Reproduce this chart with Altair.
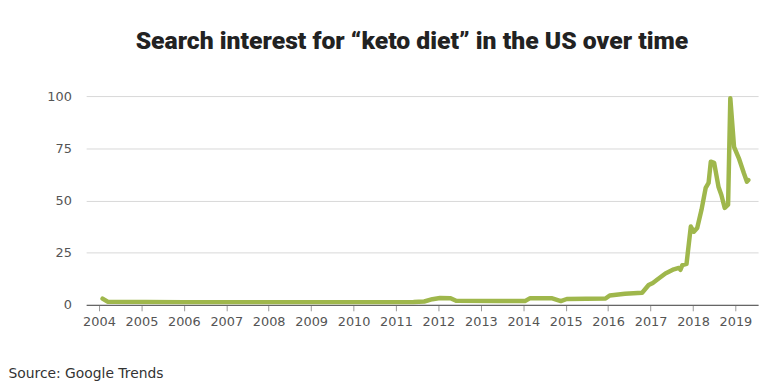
import altair as alt
import pandas as pd

# Google Trends search interest for "keto diet" (US)
dates = [
    "2004-02-01", "2004-03-15", "2006-01-01", "2008-01-01", "2010-01-01",
    "2011-06-01", "2011-09-01", "2011-11-10", "2012-01-15", "2012-04-15",
    "2012-06-01", "2013-06-01", "2014-01-15", "2014-03-01", "2014-09-01",
    "2014-11-20", "2015-01-10", "2015-12-10", "2016-01-15", "2016-05-25",
    "2016-10-20", "2016-12-15", "2017-01-20", "2017-02-25", "2017-05-08",
    "2017-07-20", "2017-09-01", "2017-09-15", "2017-10-01", "2017-11-06",
    "2017-12-13", "2018-01-08", "2018-02-06", "2018-03-15", "2018-04-20",
    "2018-05-15", "2018-06-03", "2018-07-02", "2018-08-08", "2018-09-02",
    "2018-10-01", "2018-10-30", "2018-11-18", "2018-12-20", "2019-01-30",
    "2019-03-15", "2019-04-10", "2019-04-22",
]
values = [
    3, 1.5, 1.3, 1.3, 1.3,
    1.4, 1.6, 2.7, 3.3, 3.2,
    2.0, 1.8, 1.8, 3.2, 3.2,
    1.8, 2.8, 3.0, 4.5, 5.3,
    5.8, 9.5, 10.5, 12, 15,
    17, 17.7, 16.8, 19, 19.6,
    37.5, 35, 36.8, 45.5, 56,
    58.4, 68.6, 68, 56.6, 52.6,
    46.4, 48, 99, 75.7, 70.3,
    63, 59, 59.8,
]
years = list(range(2004, 2020))
y_ticks = [0, 25, 50, 75, 100]

df = pd.DataFrame({"date": dates, "value": values})

FONT = "DejaVu Sans"

x_axis = alt.Axis(
    values=[alt.DateTime(year=y, month=1, date=1, utc=True) for y in years],
    format="%Y",
    grid=False,
    domainColor="#666666",
    domainWidth=1.2,
    tickColor="#999999",
    tickSize=6,
    labelPadding=5,
    labelFont=FONT,
    labelFontSize=13,
    labelColor="#555555",
    title="Source: Google Trends",
    titleFont=FONT,
    titleFontSize=14,
    titleFontWeight="normal",
    titleColor="#333333",
    titleAlign="left",
    titleBaseline="alphabetic",
    titleX=-79,
    titleY=73,
)

y_axis = alt.Axis(
    values=y_ticks,
    grid=True,
    gridColor="#d8d8d8",
    gridWidth=1,
    domain=False,
    ticks=False,
    labelPadding=15,
    labelFont=FONT,
    labelFontSize=13,
    labelColor="#555555",
    title=None,
)

chart = (
    alt.Chart(df)
    .mark_line(color="#9fb74c", strokeWidth=4.5, strokeCap="round", strokeJoin="round")
    .encode(
        x=alt.X(
            "date:T",
            scale=alt.Scale(
                type="utc",
                domain=[
                    alt.DateTime(year=2003, month=9, date=13, utc=True),
                    alt.DateTime(year=2019, month=7, date=15, utc=True),
                ],
            ),
            axis=x_axis,
        ),
        y=alt.Y("value:Q", scale=alt.Scale(domain=[0, 100], nice=False), axis=y_axis),
    )
    .properties(
        width=679,
        height=211,
        autosize=alt.AutoSizeParams(type="none"),
        padding={"left": 79, "top": 87, "right": 7, "bottom": 78},
        title=alt.TitleParams(
            text="Search interest for \u201cketo diet\u201d in the US over time",
            font="Roboto",
            fontSize=25,
            fontWeight=900,
            color="#222222",
            anchor="start",
            dx=129,
            offset=17,
            baseline="alphabetic",
        ),
    )
    .configure_view(stroke=None)
)

chart.save("out.html", embed_options={"renderer": "svg", "actions": False})
